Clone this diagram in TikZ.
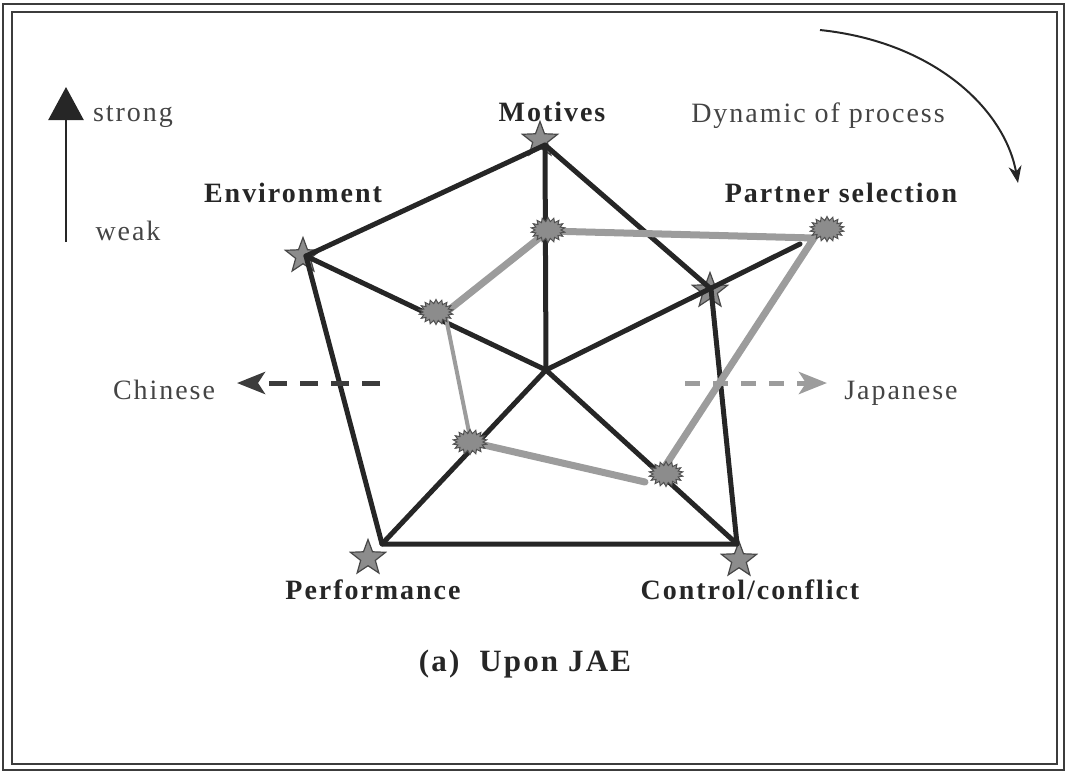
\documentclass[tikz,border=0pt]{standalone}
\usepackage{fontspec}
\setmainfont{Liberation Serif}
\newfontfamily\lblfont[LetterSpace=7]{Liberation Serif}
\usetikzlibrary{arrows.meta,shapes.geometric,shapes.symbols}
\definecolor{ink}{HTML}{262626}
\definecolor{txt}{HTML}{444444}
\definecolor{mark}{HTML}{8C8C8C}
\definecolor{jp}{HTML}{9C9C9C}
\tikzset{
  frame/.style={draw=ink!90, line width=2.6pt},
  axis/.style={draw=ink, line width=5pt, line cap=round, line join=round},
  jpline/.style={draw=jp, line width=7pt, line cap=round},
  jpthin/.style={draw=jp, line width=4pt, line cap=round},
  starmark/.style={star, star points=5, star point ratio=2.4, minimum size=37pt,
    inner sep=0pt, fill=mark, draw=ink!85, line width=1.2pt},
  blob/.style={starburst, starburst points=18, starburst point height=4pt,
    random starburst=0, minimum width=34pt, minimum height=25pt, inner sep=0pt,
    fill=mark, draw=ink!80, line width=1pt},
  reg/.style={font=\fontsize{28}{32}\selectfont\lblfont, text=txt, inner sep=0pt, anchor=base},
  bld/.style={font=\fontsize{28}{32}\selectfont\lblfont\bfseries, text=ink, inner sep=0pt, anchor=base},
  sideup/.style={draw=ink, line width=2.4pt, -{Triangle[length=33pt,width=35pt]}},
  cn/.style={draw=ink!90, line width=5pt, dash pattern=on 18pt off 13pt,
    -{Stealth[length=28pt,width=22pt,inset=7pt]}},
  ja/.style={draw=jp, line width=5pt, dash pattern=on 15pt off 13pt,
    -{Stealth[length=28pt,width=22pt,inset=7pt]}},
  flow/.style={draw=ink, line width=2pt, -{Stealth[length=17pt,width=13pt]}}
}
\begin{document}
\begin{tikzpicture}[x=1pt, y=-1pt]
  \useasboundingbox (0,0) rectangle (1067,772);
  % double border
  \draw[frame] (3,4) rectangle (1064,770);
  \draw[frame] (12,12) rectangle (1057,764);

  % value markers on the five axes
  \node[starmark] (sM)  at (540,140) {};
  \node[starmark] (sE)  at (303,256) {};
  \node[starmark] (sP)  at (710,291) {};
  \node[starmark] (sC)  at (739,560) {};
  \node[starmark] (sPf) at (368,558) {};

  % axis ends and polygon corners
  \coordinate (O)   at (546,370);
  \coordinate (vM)  at (545,145);
  \coordinate (vE)  at (306,256);
  \coordinate (vP)  at (711,289);
  \coordinate (aP)  at (800,244);
  \coordinate (vC)  at (737,544);
  \coordinate (vPf) at (382,544);

  % spokes
  \draw[axis] (O) -- (vM);
  \draw[axis] (O) -- (vE);
  \draw[axis] (O) -- (aP);
  \draw[axis] (O) -- (vC);
  \draw[axis] (O) -- (vPf);
  % outer profile
  \draw[axis] (vM) -- (vE) -- (vPf) -- (vC) -- (vP) -- cycle;

  % second profile
  \coordinate (gM)  at (548,231);
  \coordinate (gE)  at (445,313);
  \coordinate (gP)  at (814,238);
  \coordinate (gC)  at (658,477);
  \coordinate (gCe) at (645,482);
  \coordinate (gPf) at (471,442);
  \draw[jpline] (gE) -- (gM) -- (gP) -- (gC);
  \draw[jpline] (gCe) -- (gPf);
  \draw[jpthin] (gPf) -- (gE);

  \node[blob] (bM)  at (548,230) {};
  \node[blob] (bE)  at (436,312) {};
  \node[blob] (bP)  at (827,229) {};
  \node[blob] (bC)  at (666,474) {};
  \node[blob] (bPf) at (470,442) {};

  % axis labels
  \node[bld] (tM)  at (552,121) {Motives};
  \node[bld] (tE)  at (293,202) {Environment};
  \node[bld] (tP)  at (841,202) {Partner selection};
  \node[bld] (tPf) at (373,599) {Performance};
  \node[bld] (tC)  at (750,599) {Control/conflict};
  \node[bld, font=\fontsize{31}{35}\selectfont\lblfont\bfseries] (title) at (525,671) {(a)\ \ Upon JAE};

  % strength scale
  \node[reg] (strong) at (133,121) {strong};
  \node[reg] (weak)   at (128,240) {weak};
  \coordinate (up0) at (66,242);
  \coordinate (up1) at (66,87);
  \draw[sideup] (up0) -- (up1);

  % direction of the two partners
  \node[reg] (cn) at (164,399) {Chinese};
  \node[reg] (jpn) at (901,399) {Japanese};
  \coordinate (cn0) at (380,383);
  \coordinate (cn1) at (237,383);
  \coordinate (jp0) at (685,383);
  \coordinate (jp1) at (827,383);
  \draw[cn] (cn0) -- (cn1);
  \draw[ja] (jp0) -- (jp1);

  % process dynamic
  \node[reg] (dyn) at (818,122) {Dynamic of process};
  \coordinate (f0) at (820,30);
  \coordinate (f1) at (1018,183);
  \draw[flow] (f0) .. controls (935,42) and (1005,110) .. (f1);
\end{tikzpicture}
\end{document}
